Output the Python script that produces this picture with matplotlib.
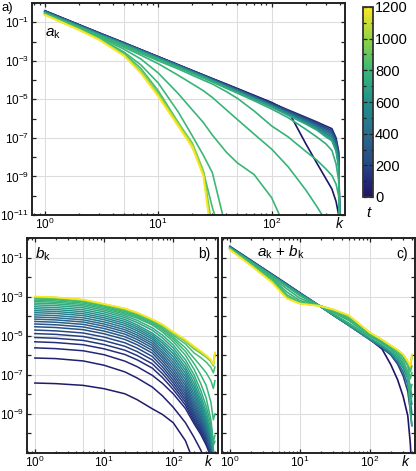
import numpy as np
import matplotlib
matplotlib.use('Agg')
import matplotlib.pyplot as plt
import matplotlib as mpl
from matplotlib.ticker import LogLocator, NullFormatter, NullLocator, MultipleLocator

plt.rcParams['font.family'] = ['Liberation Sans', 'DejaVu Sans']
plt.rcParams['mathtext.fontset'] = 'custom'
plt.rcParams['mathtext.rm'] = 'Liberation Sans'
plt.rcParams['mathtext.it'] = 'Liberation Sans:italic'
plt.rcParams['mathtext.bf'] = 'Liberation Sans:bold'

# ---- panel a: log10(a_k), one row per time t ----
ka = [1, 2, 3, 5, 7, 10, 15, 20, 25, 30, 40, 50, 70, 100, 140, 200, 250, 300, 340, 370, 390, 400]
a_t = [0, 90, 180, 270, 360, 450, 540, 620, 700, 750, 770, 780, 795, 810, 830, 900, 1000, 1100, 1200]
a_log = [
    [-0.40, -1.12, -1.54, -2.06, -2.41, -2.78, -3.20, -3.50, -3.73, -3.92, -4.21, -4.44, -4.79, -5.16, -5.60, -7.30, -8.30, -9.10, -9.65, -10.3, -11.0, -12],
    [-0.41, -1.13, -1.55, -2.07, -2.42, -2.79, -3.21, -3.51, -3.74, -3.93, -4.23, -4.46, -4.81, -5.19, -5.55, -5.93, -6.17, -6.38, -6.52, -7.00, -7.70, -12],
    [-0.42, -1.14, -1.56, -2.08, -2.43, -2.80, -3.22, -3.52, -3.75, -3.94, -4.24, -4.48, -4.84, -5.22, -5.59, -5.98, -6.23, -6.46, -6.61, -7.10, -7.82, -12],
    [-0.43, -1.15, -1.57, -2.09, -2.44, -2.81, -3.23, -3.53, -3.76, -3.96, -4.26, -4.50, -4.86, -5.25, -5.63, -6.03, -6.29, -6.54, -6.70, -7.20, -7.94, -12],
    [-0.44, -1.16, -1.58, -2.10, -2.45, -2.82, -3.24, -3.55, -3.78, -3.98, -4.28, -4.52, -4.88, -5.28, -5.67, -6.08, -6.35, -6.62, -6.79, -7.30, -8.06, -12],
    [-0.45, -1.17, -1.59, -2.11, -2.46, -2.83, -3.25, -3.56, -3.79, -3.99, -4.30, -4.54, -4.91, -5.31, -5.71, -6.13, -6.41, -6.70, -6.88, -7.40, -8.18, -12],
    [-0.47, -1.19, -1.61, -2.13, -2.48, -2.85, -3.27, -3.58, -3.81, -4.01, -4.32, -4.57, -4.94, -5.34, -5.75, -6.18, -6.47, -6.78, -6.97, -7.50, -8.30, -12],
    [-0.49, -1.21, -1.63, -2.15, -2.50, -2.87, -3.29, -3.60, -3.83, -4.03, -4.35, -4.60, -4.97, -5.37, -5.79, -6.23, -6.53, -6.86, -7.06, -7.60, -8.42, -12],
    [-0.51, -1.23, -1.66, -2.18, -2.53, -2.90, -3.32, -3.63, -3.86, -4.06, -4.38, -4.63, -5.00, -5.40, -5.83, -6.28, -6.59, -6.94, -7.15, -7.70, -8.54, -12],
    [-0.52, -1.24, -1.67, -2.19, -2.55, -2.92, -3.35, -3.66, -3.90, -4.10, -4.43, -4.68, -5.07, -5.50, -5.95, -6.55, -6.95, -7.30, -7.65, -8.35, -9.20, -12],
    [-0.53, -1.26, -1.70, -2.24, -2.61, -3.00, -3.42, -3.75, -4.00, -4.20, -4.60, -4.95, -5.60, -6.38, -6.95, -7.70, -8.15, -8.60, -8.95, -9.40, -10.0, -12],
    [-0.54, -1.28, -1.73, -2.30, -2.70, -3.15, -3.75, -4.20, -4.55, -4.90, -5.55, -6.05, -6.80, -7.58, -8.50, -9.70, -10.55, -11.3, -12, -12, -12, -12],
    [-0.55, -1.30, -1.76, -2.40, -2.90, -3.63, -4.70, -5.55, -6.20, -6.85, -7.75, -8.30, -8.90, -10.1, -12, -13, -13, -13, -13, -13, -13, -13],
    [-0.56, -1.32, -1.80, -2.55, -3.20, -4.15, -5.65, -6.90, -7.90, -8.80, -11.8, -13, -13, -13, -13, -13, -13, -13, -13, -13, -13, -13],
    [-0.57, -1.34, -1.84, -2.62, -3.38, -4.55, -6.20, -7.50, -8.75, -10.6, -13, -13, -13, -13, -13, -13, -13, -13, -13, -13, -13, -13],
    [-0.59, -1.37, -1.87, -2.68, -3.52, -4.68, -6.20, -7.27, -8.70, -11.7, -13, -13, -13, -13, -13, -13, -13, -13, -13, -13, -13, -13],
    [-0.60, -1.38, -1.88, -2.70, -3.56, -4.75, -6.27, -7.35, -8.80, -12.0, -13, -13, -13, -13, -13, -13, -13, -13, -13, -13, -13, -13],
    [-0.61, -1.39, -1.89, -2.72, -3.60, -4.80, -6.33, -7.42, -8.90, -12.3, -13, -13, -13, -13, -13, -13, -13, -13, -13, -13, -13, -13],
    [-0.62, -1.40, -1.91, -2.75, -3.64, -4.85, -6.40, -7.50, -9.00, -12.5, -13, -13, -13, -13, -13, -13, -13, -13, -13, -13, -13, -13],
]

# ---- panel b: log10(b_k) ----
kb = [1, 2, 5, 10, 20, 30, 50, 70, 100, 150, 200, 250, 300, 350, 380, 400]
b_t = [30, 60, 90, 120, 150, 180, 210, 240, 280, 320, 360, 400, 450, 500, 550,
       600, 650, 700, 740, 770, 790, 810, 830, 900, 1000, 1100, 1200]
b_log = [
    [-7.42, -7.45, -7.54, -7.71, -7.97, -8.27, -8.74, -9.03, -9.45, -10.37, -11.5, -12.3, -13, -13, -13, -13],
    [-6.14, -6.17, -6.29, -6.51, -6.85, -7.16, -7.63, -8.08, -8.66, -9.45, -10.2, -10.85, -11.5, -12.2, -12.5, -12.5],
    [-5.62, -5.66, -5.77, -5.97, -6.30, -6.58, -7.03, -7.44, -7.97, -8.72, -9.50, -10.05, -10.6, -11.2, -11.6, -11.8],
    [-5.31, -5.35, -5.46, -5.67, -5.96, -6.23, -6.66, -7.14, -7.75, -8.55, -9.38, -9.94, -10.5, -11.1, -11.5, -11.8],
    [-5.09, -5.13, -5.24, -5.45, -5.74, -6.01, -6.44, -6.94, -7.58, -8.40, -9.26, -9.84, -10.42, -11.05, -11.45, -11.8],
    [-4.89, -4.93, -5.04, -5.25, -5.54, -5.81, -6.24, -6.76, -7.42, -8.26, -9.14, -9.74, -10.34, -11.0, -11.4, -11.8],
    [-4.71, -4.75, -4.86, -5.07, -5.36, -5.63, -6.06, -6.60, -7.27, -8.12, -9.02, -9.64, -10.26, -10.95, -11.4, -11.8],
    [-4.54, -4.58, -4.69, -4.90, -5.19, -5.46, -5.89, -6.44, -7.12, -7.98, -8.90, -9.54, -10.18, -10.9, -11.35, -11.8],
    [-4.40, -4.44, -4.55, -4.76, -5.05, -5.32, -5.75, -6.29, -6.97, -7.84, -8.76, -9.43, -10.1, -10.85, -11.3, -11.8],
    [-4.27, -4.31, -4.42, -4.63, -4.92, -5.19, -5.62, -6.15, -6.82, -7.70, -8.62, -9.31, -10.0, -10.78, -11.3, -11.8],
    [-4.15, -4.19, -4.30, -4.51, -4.80, -5.07, -5.50, -6.02, -6.67, -7.55, -8.47, -9.18, -9.90, -10.7, -11.25, -11.8],
    [-4.04, -4.08, -4.19, -4.40, -4.69, -4.96, -5.39, -5.89, -6.52, -7.40, -8.32, -9.06, -9.80, -10.62, -11.2, -11.8],
    [-3.93, -3.97, -4.08, -4.29, -4.58, -4.85, -5.28, -5.76, -6.37, -7.24, -8.15, -8.92, -9.68, -10.52, -11.15, -11.8],
    [-3.82, -3.86, -3.97, -4.18, -4.47, -4.74, -5.17, -5.63, -6.22, -7.08, -7.98, -8.77, -9.55, -10.42, -11.1, -11.8],
    [-3.72, -3.76, -3.87, -4.08, -4.37, -4.64, -5.07, -5.51, -6.07, -6.92, -7.80, -8.61, -9.42, -10.3, -11.0, -11.8],
    [-3.62, -3.66, -3.77, -3.98, -4.27, -4.54, -4.97, -5.38, -5.92, -6.76, -7.62, -8.45, -9.27, -10.17, -10.95, -11.8],
    [-3.52, -3.56, -3.67, -3.88, -4.17, -4.44, -4.87, -5.26, -5.77, -6.60, -7.43, -8.27, -9.10, -10.0, -10.9, -11.8],
    [-3.42, -3.46, -3.57, -3.78, -4.07, -4.32, -4.72, -5.11, -5.62, -6.42, -7.22, -8.06, -8.90, -9.80, -10.8, -11.5],
    [-3.33, -3.37, -3.48, -3.69, -3.98, -4.21, -4.60, -4.97, -5.47, -6.23, -7.00, -7.80, -8.62, -9.55, -10.6, -10.4],
    [-3.25, -3.29, -3.40, -3.61, -3.90, -4.10, -4.45, -4.81, -5.30, -6.00, -6.72, -7.45, -8.20, -9.30, -10.4, -10.1],
    [-3.18, -3.22, -3.33, -3.54, -3.83, -4.03, -4.38, -4.71, -5.17, -5.80, -6.42, -7.00, -7.55, -8.40, -9.30, -9.00],
    [-3.12, -3.16, -3.27, -3.48, -3.77, -3.97, -4.32, -4.63, -5.07, -5.62, -6.15, -6.55, -6.90, -7.30, -7.70, -7.30],
    [-3.07, -3.11, -3.22, -3.43, -3.72, -3.92, -4.27, -4.56, -4.97, -5.42, -5.88, -6.12, -6.35, -6.62, -6.90, -6.60],
    [-3.03, -3.07, -3.19, -3.41, -3.65, -3.86, -4.21, -4.48, -4.88, -5.30, -5.68, -5.90, -6.10, -6.32, -6.55, -5.95],
    [-3.01, -3.05, -3.17, -3.39, -3.62, -3.83, -4.18, -4.45, -4.84, -5.24, -5.60, -5.83, -6.04, -6.26, -6.49, -5.90],
    [-3.00, -3.04, -3.16, -3.38, -3.61, -3.82, -4.17, -4.44, -4.82, -5.21, -5.56, -5.80, -6.02, -6.24, -6.47, -5.87],
    [-2.99, -3.03, -3.15, -3.37, -3.60, -3.81, -4.16, -4.42, -4.80, -5.19, -5.54, -5.78, -6.00, -6.22, -6.45, -5.85],
]

# ---- panel c: log10(a_k + b_k) ----
kc = [1, 2, 4, 6.5, 10, 19, 30, 50, 100, 150, 200, 250, 300, 350, 380, 400]
c_t = [0, 200, 400, 600, 700, 750, 770, 790, 810, 830, 900, 1050, 1200]
c_log = [
    [-0.43, -1.14, -1.85, -2.35, -2.80, -3.46, -3.94, -4.46, -5.18, -5.68, -6.48, -7.25, -8.10, -9.10, -10.5, -12],
    [-0.44, -1.15, -1.86, -2.36, -2.81, -3.46, -3.94, -4.46, -5.19, -5.62, -5.98, -6.45, -7.05, -7.85, -8.80, -9.60],
    [-0.46, -1.17, -1.88, -2.38, -2.83, -3.47, -3.95, -4.47, -5.20, -5.60, -5.95, -6.35, -6.85, -7.50, -8.30, -9.00],
    [-0.48, -1.19, -1.90, -2.40, -2.84, -3.47, -3.94, -4.46, -5.17, -5.55, -5.88, -6.22, -6.65, -7.20, -7.90, -8.50],
    [-0.50, -1.21, -1.92, -2.43, -2.87, -3.47, -3.92, -4.43, -5.12, -5.48, -5.80, -6.12, -6.50, -7.00, -7.60, -8.10],
    [-0.51, -1.23, -1.95, -2.48, -2.95, -3.47, -3.88, -4.35, -5.03, -5.38, -5.68, -6.00, -6.40, -7.00, -8.90, -9.60],
    [-0.53, -1.27, -2.02, -2.60, -3.08, -3.46, -3.80, -4.22, -4.97, -5.36, -5.70, -6.02, -6.42, -7.10, -8.40, -8.10],
    [-0.55, -1.30, -2.06, -2.76, -3.20, -3.45, -3.75, -4.15, -4.93, -5.30, -5.60, -5.90, -6.25, -6.85, -7.80, -7.50],
    [-0.56, -1.32, -2.10, -2.90, -3.28, -3.45, -3.72, -4.08, -4.90, -5.27, -5.55, -5.80, -6.10, -6.55, -7.20, -6.90],
    [-0.57, -1.34, -2.15, -3.00, -3.32, -3.45, -3.70, -4.02, -4.86, -5.23, -5.52, -5.75, -6.00, -6.38, -6.85, -6.55],
    [-0.58, -1.38, -2.22, -3.04, -3.34, -3.46, -3.67, -3.98, -4.85, -5.22, -5.52, -5.74, -5.98, -6.34, -6.60, -6.10],
    [-0.59, -1.40, -2.25, -3.07, -3.35, -3.47, -3.66, -3.96, -4.84, -5.21, -5.51, -5.73, -5.97, -6.32, -6.57, -5.98],
    [-0.60, -1.42, -2.28, -3.10, -3.36, -3.48, -3.65, -3.95, -4.83, -5.20, -5.50, -5.72, -5.95, -6.30, -6.55, -5.95],
]

# colour scale like viridis but with a navy low end, as in the reference
cmap_stops = [0.0, 0.08, 0.17, 0.33, 0.5, 0.67, 0.83, 1.0]
cmap_cols = ['#1d1566', '#23287a', '#264884', '#2a6b8d', '#21908c', '#3bb777', '#8fd446', '#fde725']
cmap = mpl.colors.LinearSegmentedColormap.from_list('navy_viridis', list(zip(cmap_stops, cmap_cols)))
norm = mpl.colors.Normalize(vmin=0, vmax=1200)
frame_col = '#222222'

W, H = 416, 471
fig = plt.figure(figsize=(W / 100, H / 100), dpi=100)
ax_a = fig.add_axes([32 / W, 1 - 215 / H, 313 / W, 212 / H])
cax = fig.add_axes([363 / W, 1 - 197 / H, 10 / W, 190 / H])
ax_b = fig.add_axes([27 / W, 1 - 453 / H, 191 / W, 215 / H])
ax_c = fig.add_axes([222 / W, 1 - 453 / H, 193 / W, 215 / H])


def style(ax, ylab_exps):
    ax.set_xscale('log')
    ax.set_yscale('log')
    ax.set_xlim(10 ** -0.113, 10 ** 2.647)
    ax.set_ylim(1e-11, 1.0)
    ax.set_xticks([1, 10, 100])
    ax.set_xticklabels([r'$10^0$', r'$10^1$', r'$10^2$'])
    ax.xaxis.set_minor_locator(LogLocator(base=10, subs=range(2, 10), numticks=20))
    ax.xaxis.set_minor_formatter(NullFormatter())
    exps = list(range(-11, 1))
    ax.set_yticks([10.0 ** e for e in exps])
    ax.set_yticklabels([r'$10^{%d}$' % e if e in ylab_exps else '' for e in exps])
    ax.yaxis.set_minor_locator(NullLocator())
    ax.tick_params(which='both', direction='in', top=True, right=True,
                   color=frame_col, labelsize=8.5, width=0.9)
    ax.tick_params(which='major', length=3.2, pad=1.5)
    ax.tick_params(which='minor', length=1.7)
    ax.tick_params(axis='y', pad=2)
    for x in [1, 5, 10, 50, 100]:
        ax.axvline(x, color='#dddddd', lw=0.8, zorder=0)
    for e in [-1, -3, -5, -7, -9]:
        ax.axhline(10.0 ** e, color='#dddddd', lw=0.8, zorder=0)
    for s in ax.spines.values():
        s.set_linewidth(1.4)
        s.set_color(frame_col)


style(ax_a, [-1, -3, -5, -7, -9, -11])
style(ax_b, [-1, -3, -5, -7, -9])
style(ax_c, [])

for t, v in zip(a_t, a_log):
    ax_a.plot(ka, 10.0 ** np.array(v), color=cmap(norm(t)), lw=1.2)
for t, v in zip(b_t, b_log):
    ax_b.plot(kb, 10.0 ** np.array(v), color=cmap(norm(t)), lw=1.1)
for t, v in zip(c_t, c_log):
    ax_c.plot(kc, 10.0 ** np.array(v), color=cmap(norm(t)), lw=1.2)

# k labels in place of a last tick label
for ax, kx in [(ax_a, 395), (ax_b, 320), (ax_c, 320)]:
    ax.annotate('k', xy=(kx, 0), xycoords=('data', 'axes fraction'),
                xytext=(0, -1.5), textcoords='offset points',
                ha='center', va='top', fontsize=10, style='italic')

ax_a.text(0.042, 0.84, r'$a_\mathrm{k}$', transform=ax_a.transAxes, fontsize=11, va='baseline')
ax_b.text(0.042, 0.905, r'$b_\mathrm{k}$', transform=ax_b.transAxes, fontsize=11, va='baseline')
ax_b.text(0.958, 0.905, 'b)', transform=ax_b.transAxes, fontsize=10, ha='right', va='baseline')
ax_c.text(0.18, 0.915, r'$a_\mathrm{k}$ + $b_\mathrm{k}$', transform=ax_c.transAxes,
          fontsize=11, va='baseline')
ax_c.text(0.965, 0.905, 'c)', transform=ax_c.transAxes, fontsize=10, ha='right', va='baseline')
fig.text(2 / W, 1 - 11 / H, 'a)', fontsize=9.5, va='baseline')

sm = mpl.cm.ScalarMappable(norm=norm, cmap=cmap)
cb = fig.colorbar(sm, cax=cax)
cb.set_ticks(range(0, 1201, 200))
cb.ax.yaxis.set_minor_locator(MultipleLocator(100))
cb.ax.tick_params(which='both', direction='in', left=True, right=True, color=frame_col,
                  labelsize=10.5, pad=1.5, width=0.9)
cb.ax.tick_params(which='major', length=3)
cb.ax.tick_params(which='minor', length=1.8)
cb.outline.set_linewidth(1.3)
cb.outline.set_edgecolor('#333333')
fig.text(368 / W, 1 - 213 / H, 't', fontsize=11, style='italic', ha='center', va='center')

fig.savefig('out.png', dpi=100)
